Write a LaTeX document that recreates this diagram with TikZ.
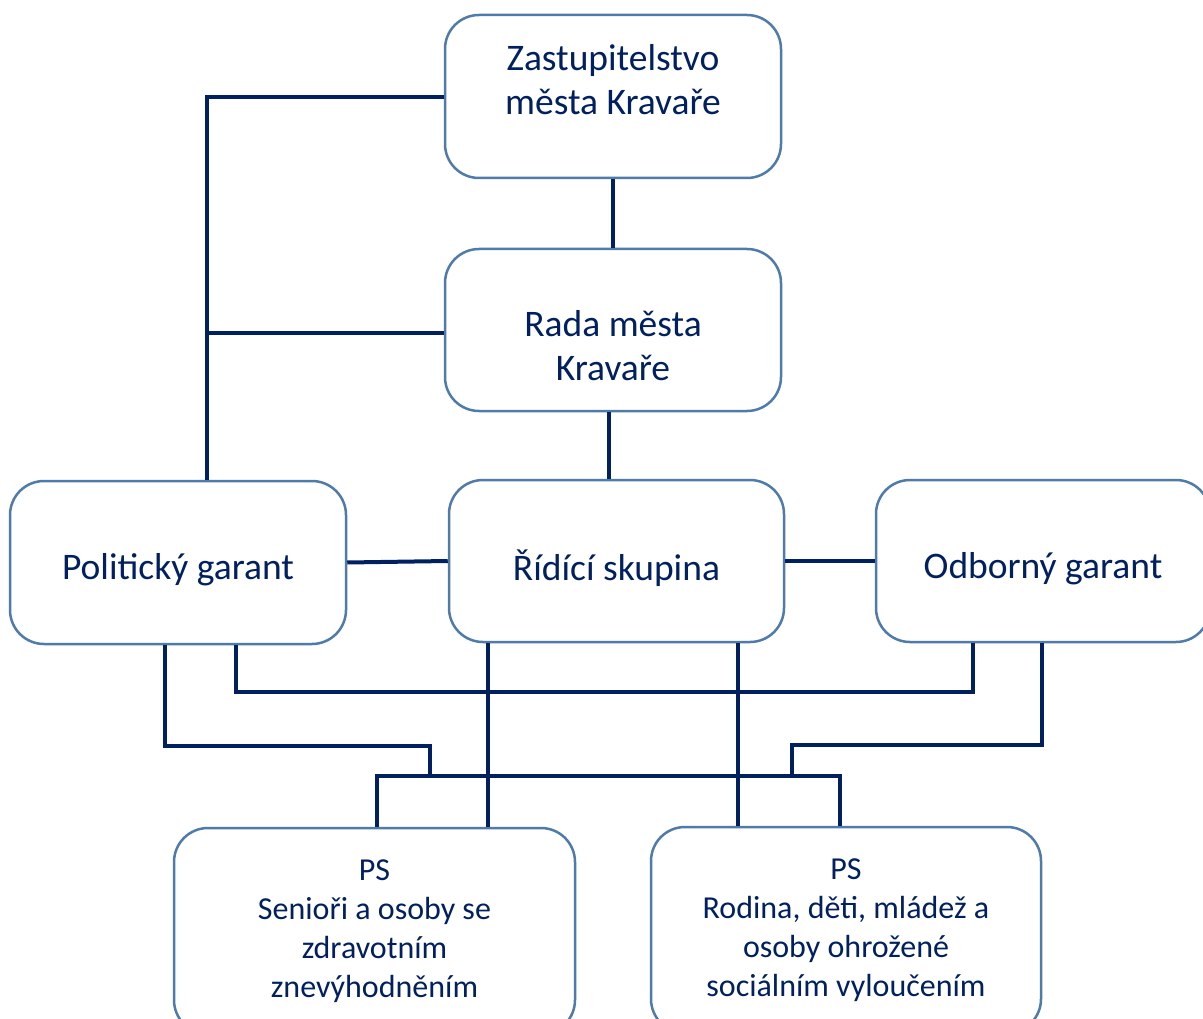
\documentclass[tikz,border=0pt]{standalone}
\usepackage{fontspec}
\setmainfont{Carlito}
\definecolor{navy}{HTML}{002060}
\definecolor{boxblue}{HTML}{4E7BAA}
\begin{document}
\begin{tikzpicture}[x=1pt,y=-1pt,
 box/.style={draw=boxblue, line width=2.5pt, rounded corners=34pt, fill=white, inner sep=0pt},
 conn/.style={draw=navy, line width=4pt},
 big/.style={text=navy, font=\fontsize{37.5}{44}\selectfont, align=center},
 small/.style={text=navy, font=\fontsize{32}{39.2}\selectfont, align=center}]
\useasboundingbox (0,0) rectangle (1203,1019);
\fill[white] (0,0) rectangle (1203,1019);

\node[box, minimum width=336pt, minimum height=163pt,
  label={[big, yshift=16.5pt]center:{Zastupitelstvo\\města Kravaře}}] (z) at (613,96.5) {};
\node[box, minimum width=336pt, minimum height=162pt,
  label={[big, yshift=-16pt]center:{Rada města\\Kravaře}}] (r) at (613,330) {};
\node[box, minimum width=336pt, minimum height=163pt,
  label={[big, yshift=-7.5pt]center:{Politický garant}}] (pg) at (178,562.5) {};
\node[box, minimum width=335pt, minimum height=162pt,
  label={[big, yshift=-7pt]center:{Řídící skupina}}] (rs) at (616.5,561) {};
\node[box, minimum width=334pt, minimum height=162pt,
  label={[big, yshift=-8pt]center:{Odborný garant}}] (og) at (1043,561) {};
\node[box, minimum width=401pt, minimum height=206pt,
  label={[small, yshift=0pt]center:{PS\\Senioři a osoby se\\zdravotním\\znevýhodněním}}] (bl) at (374.5,931) {};
\node[box, minimum width=390pt, minimum height=206pt,
  label={[small, yshift=0pt]center:{PS\\Rodina, děti, mládež a\\osoby ohrožené\\sociálním vyloučením}}] (br) at (846,930) {};

% coordinates for bends
\coordinate (l1) at (207,97);
\coordinate (l2) at (207,333);
\coordinate (c1) at (609,0);
\coordinate (a1) at (236,692);
\coordinate (a2) at (973,692);
\coordinate (m1) at (165,746);
\coordinate (m2) at (430,746);
\coordinate (m3) at (430,776);
\coordinate (p1) at (1042,745);
\coordinate (p2) at (792,745);
\coordinate (p3) at (792,776);
\coordinate (q1) at (377,776);
\coordinate (q2) at (840,776);
\coordinate (v1) at (488,0);
\coordinate (v2) at (738,0);

\draw[conn] (z.south) -- (r.north);
\draw[conn] (r.south -| c1) -- (rs.north -| c1);
\draw[conn] (pg.north -| l1) -- (l1) -- (z.west |- l1);
\draw[conn] (l2) -- (r.west |- l2);
\draw[conn] (pg.east) -- (rs.west);
\draw[conn] (rs.east) -- (og.west);
\draw[conn] (pg.south -| a1) -- (a1) -- (a2) -- (og.south -| a2);
\draw[conn] (pg.south -| m1) -- (m1) -- (m2) -- (m3);
\draw[conn] (og.south -| p1) -- (p1) -- (p2) -- (p3);
\draw[conn] (bl.north -| q1) -- (q1) -- (q2) -- (br.north -| q2);
\draw[conn] (rs.south -| v1) -- (bl.north -| v1);
\draw[conn] (rs.south -| v2) -- (br.north -| v2);
\end{tikzpicture}
\end{document}
